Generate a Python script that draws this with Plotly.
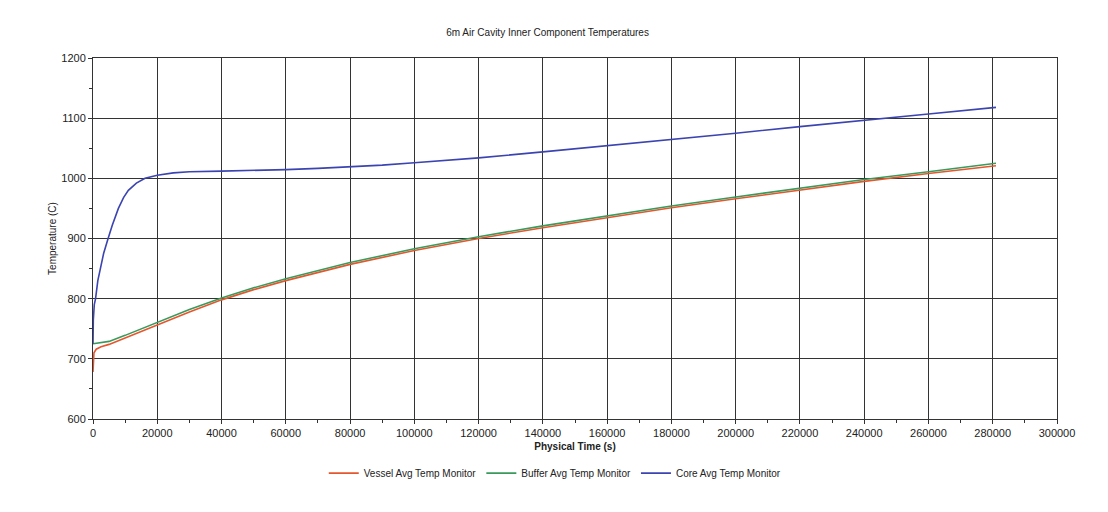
import plotly.graph_objects as go

# ---- data ----
time_core = [0, 100, 400, 800, 1500, 2200, 3300, 4700, 6000, 7900, 9500, 11000,
             13500, 16200, 20000, 25000, 30000, 40000, 50000, 60000, 70000, 80000,
             90000, 100000, 110000, 120000, 140000, 160000, 180000, 200000,
             220000, 240000, 260000, 281000]
core_temp = [725, 765, 790, 800, 830, 850, 875, 900, 922, 950, 968, 980,
             992, 1000, 1005, 1009, 1011, 1012, 1013, 1014.5, 1016.5, 1019,
             1022, 1026, 1030, 1034, 1044, 1054, 1064, 1075,
             1086, 1097, 1107, 1118]

time_vessel = [0, 50, 300, 1000, 2500, 5000, 10000, 20000, 30000, 40000, 50000,
               60000, 70000, 80000, 100000, 120000, 140000, 160000, 180000, 200000,
               220000, 240000, 260000, 281000]
vessel_temp = [678, 700, 710, 716, 720, 724, 735, 756, 778, 798, 815,
               830, 844, 857, 880, 900, 918, 935, 951, 966,
               981, 995, 1008, 1021]

time_buffer = [0, 3000, 5000, 10000, 20000, 30000, 40000, 50000, 60000, 70000, 80000,
               100000, 120000, 140000, 160000, 180000, 200000, 220000, 240000,
               260000, 281000]
buffer_temp = [725, 727, 729, 739, 760, 782, 801, 818, 833, 847, 860,
               883, 903, 921, 938, 954, 969, 984, 998,
               1011, 1025]

x_ticks = list(range(0, 300001, 20000))
y_ticks = list(range(600, 1201, 100))

FONT = "Liberation Sans, Arial, sans-serif"

fig = go.Figure()
fig.add_trace(go.Scatter(x=time_vessel, y=vessel_temp, mode="lines",
                         name="Vessel Avg Temp Monitor",
                         line=dict(color="#e4572e", width=1.6)))
fig.add_trace(go.Scatter(x=time_buffer, y=buffer_temp, mode="lines",
                         name="Buffer Avg Temp Monitor",
                         line=dict(color="#3a9a5b", width=1.6)))
fig.add_trace(go.Scatter(x=time_core, y=core_temp, mode="lines",
                         name="Core Avg Temp Monitor",
                         line=dict(color="#3b44b0", width=1.6)))

fig.update_layout(
    width=1108, height=512,
    paper_bgcolor="white", plot_bgcolor="white",
    margin=dict(l=85, r=59, t=50, b=101, autoexpand=False),
    font=dict(family=FONT, size=10, color="#222"),
    title=dict(text="6m Air Cavity Inner Component Temperatures",
               x=0.487, xanchor="center", y=1 - 24 / 512, yanchor="middle",
               font=dict(size=10, color="#222")),
    legend=dict(orientation="h", x=0.479, xanchor="center", y=-0.15,
                yanchor="middle", font=dict(size=10, color="#222"),
                bgcolor="rgba(0,0,0,0)"),
    showlegend=True,
)
fig.update_xaxes(
    range=[0, 300000], tickvals=x_ticks, ticktext=[str(v) for v in x_ticks],
    showgrid=True, gridcolor="#333", gridwidth=1,
    showline=True, linecolor="#333", linewidth=1, mirror=True,
    ticks="outside", ticklen=4, tickcolor="#333",
    minor=dict(dtick=10000, ticks="outside", ticklen=3, tickcolor="#333", showgrid=False),
    zeroline=False, tickfont=dict(size=11, color="#222"),
    title=dict(text="<b>Physical Time (s)</b>", font=dict(size=10, color="#222"), standoff=4),
)
fig.update_yaxes(
    range=[600, 1200], tickvals=y_ticks,
    showgrid=True, gridcolor="#333", gridwidth=1,
    showline=True, linecolor="#333", linewidth=1, mirror=True,
    ticks="outside", ticklen=4, tickcolor="#333",
    minor=dict(dtick=50, ticks="outside", ticklen=3, tickcolor="#333", showgrid=False),
    zeroline=False, tickfont=dict(size=11, color="#222"),
    title=dict(text="Temperature (C)", font=dict(size=10, color="#222"), standoff=2),
)

fig.write_html("out.html")
